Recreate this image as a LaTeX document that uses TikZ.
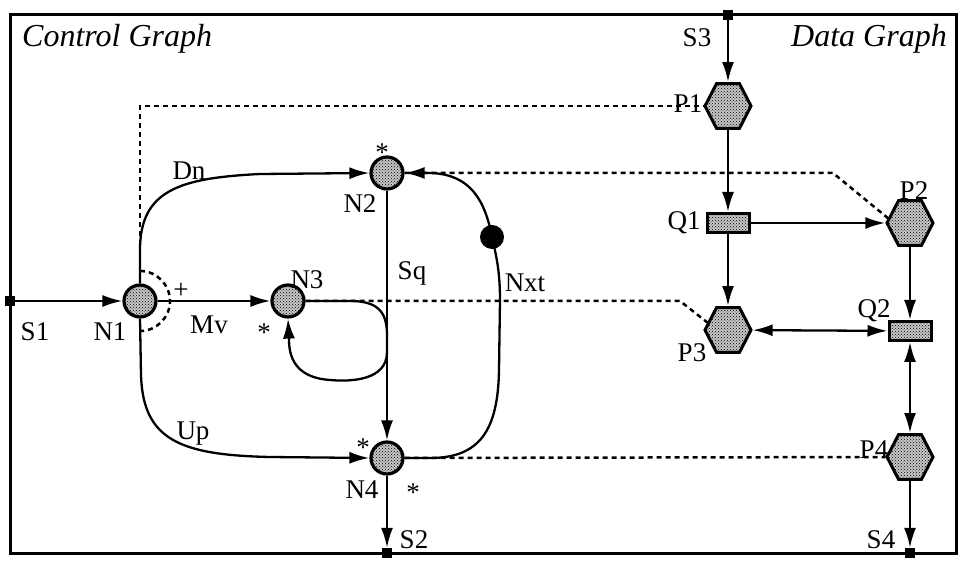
\documentclass[tikz,border=0pt]{standalone}
\usepackage{fontspec}
\setmainfont{Liberation Serif}
\usetikzlibrary{arrows.meta,patterns,shapes.geometric}
\begin{document}
\begin{tikzpicture}[x=1pt,y=-1pt,
  stip/.style={preaction={fill=gray!45},pattern=crosshatch dots,pattern color=black},
  cnode/.style={circle,draw,line width=3.2pt,minimum size=32pt,inner sep=0pt,stip},
  hexa/.style={regular polygon,regular polygon sides=6,draw,line width=3pt,minimum size=46pt,inner sep=0pt,yscale=1.12,transform shape,stip},
  qbox/.style={rectangle,draw,line width=3pt,minimum width=42pt,minimum height=19pt,inner sep=0pt,stip},
  term/.style={rectangle,fill=black,minimum size=10pt,inner sep=0pt},
  bigdot/.style={circle,fill=black,minimum size=24pt,inner sep=0pt},
  lab/.style={font=\fontsize{27}{27}\selectfont,inner sep=0pt},
  ttl/.style={font=\fontsize{32}{32}\selectfont\itshape,inner sep=0pt},
  edge/.style={line width=2.3pt,-{Latex[length=20pt,width=12pt]}},
  dedge/.style={line width=2.3pt,{Latex[length=20pt,width=12pt]}-{Latex[length=20pt,width=12pt]}},
  dotline/.style={line width=2.5pt,dash pattern=on 5pt off 4pt}]
\useasboundingbox (0,0) rectangle (962,561);
\draw[line width=3pt] (10,15) rectangle (956,553);
% titles
\node[ttl,anchor=base west] (tc) at (22,47) {Control Graph};
\node[ttl,anchor=base east] (td) at (947,47) {Data Graph};
% control nodes
\node[term] (S1) at (10,301) {};
\node[term] (S2) at (387,553) {};
\node[cnode] (N1) at (140,301) {};
\node[cnode] (N3) at (288,301) {};
\node[cnode] (N2) at (387,173) {};
\node[cnode] (N4) at (387,458) {};
\node[bigdot] (ND) at (492,237) {};
% data nodes
\node[term] (S3) at (728,15) {};
\node[term] (S4) at (910,553) {};
\node[hexa] (P1) at (728,106) {};
\node[qbox] (Q1) at (728,223) {};
\node[hexa] (P3) at (728,330) {};
\node[hexa] (P2) at (910,223) {};
\node[qbox] (Q2) at (910,331) {};
\node[hexa] (P4) at (910,457) {};
% dashed links
\coordinate (d1a) at (140,245);
\coordinate (d1b) at (140,106);
\draw[dotline] (d1a) -- (d1b) -- (P1.west);
\coordinate (d2a) at (833,173);
\coordinate (d2b) at (889,219);
\draw[dotline] (N2.east) -- (d2a) -- (d2b);
\coordinate (d3a) at (680,301);
\coordinate (d3b) at (708,323);
\draw[dotline] (N3.east) -- (d3a) -- (d3b);
\draw[dotline] (N4.east) -- (P4.west);
% dotted arc at N1
\draw[dotline] (140,271) .. controls (157,271) and (170,285) .. (170,301) .. controls (170,317) and (157,331) .. (140,331);
% control edges
\draw[edge] (S1) -- (N1);
\draw[edge] (N1) -- (N3);
\draw[edge] (N1.north) -- (140,250) .. controls (140,190) and (180,178) .. (260,174) -- (N2.west);
\draw[edge] (N1.south) -- (141,375) .. controls (143,440) and (180,455) .. (270,457) -- (N4.west);
\draw[edge] (N2.south) -- (N4.north);
\draw[edge] (N3.east) -- (350,301) .. controls (378,301) and (387,312) .. (387,335) -- (387,352)
   .. controls (387,380) and (352,382) .. (330,380) .. controls (300,378) and (289,362) .. (289,340) -- (N3.south);
\draw[edge] (N4.east) -- (430,458) .. controls (480,458) and (498,430) .. (499,370) -- (500,300)
   .. controls (500,270) and (496,255) .. (ND.center) .. controls (485,200) and (470,174) .. (430,173) -- (N2.east);
\draw[edge] (N4) -- (S2);
% data edges
\draw[edge] (S3) -- (P1);
\draw[edge] (P1) -- (Q1);
\draw[edge] (Q1) -- (P2);
\draw[edge] (Q1) -- (P3);
\draw[dedge] (P3) -- (Q2);
\draw[edge] (P2) -- (Q2);
\draw[dedge] (Q2) -- (P4);
\draw[edge] (P4) -- (S4);
% labels
\node[lab] (lS1) at (35,332) {S1};
\node[lab] (lN1) at (110,332) {N1};
\node[lab] (lplus) at (181,291) {+};
\node[lab] (lMv) at (209,325) {Mv};
\node[lab] (lDn) at (189,171) {Dn};
\node[lab] (lUp) at (193,434) {Up};
\node[lab] (lN3) at (307,280) {N3};
\node[lab] (st3) at (264,333) {*};
\node[lab] (lN2) at (360,204) {N2};
\node[lab] (st2) at (382,153) {*};
\node[lab] (lSq) at (412,273) {Sq};
\node[lab] (lNxt) at (525,283) {Nxt};
\node[lab] (st4a) at (363,448) {*};
\node[lab] (lN4) at (362,490) {N4};
\node[lab] (st4b) at (413,493) {*};
\node[lab] (lS2) at (414,540) {S2};
\node[lab] (lS3) at (697,38) {S3};
\node[lab] (lP1) at (688,104) {P1};
\node[lab] (lQ1) at (684,223) {Q1};
\node[lab] (lP2) at (914,191) {P2};
\node[lab] (lP3) at (692,353) {P3};
\node[lab] (lQ2) at (874,311) {Q2};
\node[lab] (lP4) at (874,450) {P4};
\node[lab] (lS4) at (881,540) {S4};
\end{tikzpicture}
\end{document}
